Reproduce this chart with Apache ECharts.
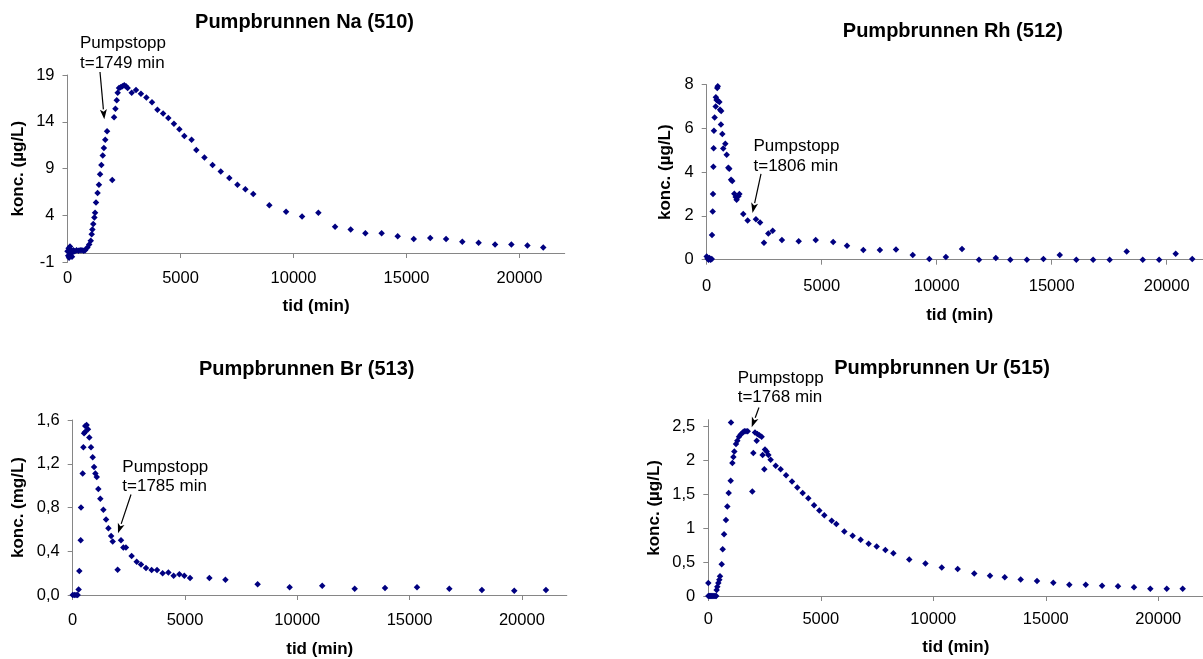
<!DOCTYPE html>
<html><head><meta charset="utf-8">
<script src="https://cdn.jsdelivr.net/npm/echarts@6/dist/echarts.min.js"></script>
<style>html,body{margin:0;padding:0;background:#fff}#c{width:1203px;height:659px}</style>
</head><body><div id="c"></div>
<script>
// ---- Data (time in min, concentration) ----
const naTime = [0,30,50,70,90,110,140,170,200,230,260,320,400,480,560,640,720,780,880,960,1030,1070,1100,1140,1190,1220,1260,1330,1390,1440,1500,1560,1610,1670,1750,1980,2060,2120,2180,2220,2280,2350,2430,2510,2590,2660,2840,3030,3250,3490,3740,3980,4230,4460,4710,4950,5170,5490,5700,6060,6420,6780,7160,7520,7870,8220,8930,9670,10380,11100,11840,12530,13180,13900,14610,15320,16050,16750,17470,18190,18920,19640,20350,21050];
const naConc = [0.2,-0.3,0.5,-0.5,0.1,0.7,-0.2,0.3,-0.4,0.1,0.3,0.2,0.3,0.25,0.3,0.3,0.25,0.3,0.6,0.9,1.3,2.0,2.5,3.1,3.8,4.3,5.4,6.4,7.3,8.4,9.4,10.4,11.2,12.1,13.0,7.8,14.5,15.4,16.3,17.1,17.6,17.7,17.8,17.9,17.8,17.6,17.1,17.4,17.0,16.6,16.1,15.3,14.9,14.4,13.8,13.2,12.5,12.1,11.0,10.2,9.4,8.7,8.0,7.3,6.8,6.3,5.1,4.4,3.9,4.3,2.8,2.5,2.1,2.1,1.8,1.5,1.6,1.5,1.2,1.1,0.9,0.9,0.8,0.6];

const rhTime = [0,40,80,120,170,220,230,260,275,290,300,315,345,390,400,430,460,480,490,550,580,630,620,680,720,810,870,940,980,1060,1110,1200,1260,1300,1380,1420,1590,1780,2140,2320,2490,2680,2870,3270,4000,4740,5500,6100,6810,7530,8230,8960,9680,10400,11100,11840,12570,13200,13920,14640,15350,16070,16800,17520,18260,18960,19670,20390,21110];
const rhConc = [0.15,0.05,0.0,0.08,0.0,0.03,1.13,2.2,3.0,4.25,5.1,5.9,6.5,7.0,7.43,7.3,7.85,7.93,7.27,7.21,6.86,6.8,6.18,5.75,5.08,5.3,4.8,4.2,4.16,3.66,3.6,3.02,2.87,2.74,2.9,3.0,2.09,1.79,1.85,1.7,0.78,1.2,1.32,0.9,0.84,0.9,0.81,0.64,0.44,0.44,0.47,0.21,0.03,0.12,0.49,0.0,0.08,0.0,0.0,0.03,0.21,0.0,0.0,0.0,0.38,0.0,0.0,0.27,0.03];

const brTime = [0,70,150,220,265,295,355,370,445,475,505,550,560,620,680,740,815,890,950,1010,1070,1140,1230,1365,1485,1590,1710,1780,2000,2150,2255,2370,2625,2850,3040,3265,3515,3755,4005,4260,4495,4750,4970,5225,6085,6800,8235,9660,11110,12555,13905,15330,16770,18220,19660,21070];
const brConc = [0,0,0,0,0.05,0.22,0.5,0.8,1.11,1.35,1.48,1.49,1.545,1.555,1.515,1.44,1.35,1.26,1.17,1.11,1.08,0.97,0.88,0.78,0.69,0.61,0.54,0.49,0.23,0.5,0.435,0.435,0.357,0.305,0.28,0.247,0.228,0.228,0.2,0.205,0.176,0.19,0.176,0.155,0.155,0.14,0.098,0.07,0.085,0.058,0.064,0.07,0.058,0.046,0.04,0.046];

const urTime = [0,0,50,100,150,200,250,300,350,370,400,445,490,520,595,640,700,785,845,905,995,1010,1070,1115,1155,1230,1290,1365,1440,1530,1600,1675,1750,1955,2000,2075,2150,2180,2270,2370,2415,2490,2520,2595,2670,2770,2995,3215,3455,3720,3955,4195,4445,4700,4935,5155,5485,5690,6045,6415,6770,7125,7485,7870,8225,8930,9650,10375,11085,11820,12520,13175,13885,14610,15335,16045,16775,17500,18210,18920,19645,20375,21085];
const urConc = [0.19,0,0,0,0,0,0,0,0,0.09,0.135,0.19,0.24,0.29,0.47,0.69,0.91,1.12,1.32,1.52,1.70,2.56,1.96,2.05,2.13,2.24,2.29,2.35,2.38,2.41,2.43,2.43,2.43,1.54,2.11,2.41,2.29,2.39,2.37,2.35,2.08,1.87,2.16,2.13,2.08,2.01,1.92,1.87,1.78,1.69,1.60,1.52,1.44,1.34,1.26,1.19,1.11,1.06,0.95,0.89,0.83,0.77,0.73,0.68,0.63,0.54,0.48,0.42,0.40,0.33,0.30,0.275,0.245,0.22,0.196,0.167,0.167,0.152,0.143,0.128,0.108,0.108,0.108];

const xTicks = [0,5000,10000,15000,20000];
const naYTicks = [-1,4,9,14,19];
const rhYTicks = [0,2,4,6,8];
const brYTicks = [0,0.4,0.8,1.2,1.6];
const urYTicks = [0,0.5,1,1.5,2,2.5];

const titles = ['Pumpbrunnen Na (510)','Pumpbrunnen Rh (512)','Pumpbrunnen Br (513)','Pumpbrunnen Ur (515)'];
const yNames = ['konc. (µg/L)','konc. (µg/L)','konc. (mg/L)','konc. (µg/L)'];
const xName = 'tid (min)';
const stopTexts = ['Pumpstopp\nt=1749 min','Pumpstopp\nt=1806 min','Pumpstopp\nt=1785 min','Pumpstopp\nt=1768 min'];

// ---- Layout ----
const FONT = "'Liberation Sans', Arial, Helvetica, sans-serif";
const AX = '#868686';
const comma = v => String(v).replace('.', ',');
const panels = [
  {time:naTime, conc:naConc, ymin:-1, ymax:19, yt:naYTicks, fmt:v=>String(v),
   grid:{left:67.5, top:75, width:497.2, height:187.4}, tpos:[304.5,22.7], xMargin:8, xGap:35, yGap:41,
   note:{at:[553,23.37], tail:[1438,19.32], tip:[1628,14.27]}},
  {time:rhTime, conc:rhConc, ymin:0, ymax:8, yt:rhYTicks, fmt:v=>String(v),
   grid:{left:706.7, top:84.7, width:506, height:175}, tpos:[952.8,31.7], xMargin:18, xGap:47, yGap:32.5,
   note:{at:[2035,5.62], tail:[2361,3.92], tip:[1991,2.14]}},
  {time:brTime, conc:brConc, ymin:0, ymax:1.6, yt:brYTicks, fmt:v=>v.toFixed(1).replace('.',','),
   grid:{left:72.7, top:420, width:494.1, height:175}, tpos:[306.7,369.3], xMargin:17, xGap:46, yGap:46,
   note:{at:[2208,1.261], tail:[2596,0.919], tip:[2017,0.564]}},
  {time:urTime, conc:urConc, ymin:0, ymax:2.6, yt:urYTicks, fmt:comma,
   grid:{left:708.3, top:419.7, width:495, height:176.3}, tpos:[942,368.3], xMargin:15, xGap:43, yGap:45,
   note:{at:[1307,3.358], tail:[2253,2.78], tip:[1929,2.49]}}
];

const chart = echarts.init(document.getElementById('c'), null, {renderer:'canvas'});
const grids = [], xAxes = [], yAxes = [], series = [];
panels.forEach((p, i) => {
  grids.push(Object.assign({containLabel:false, outerBoundsMode:'none'}, p.grid));
  xAxes.push({
    gridIndex:i, type:'value', min:0, max:22000,
    axisLine:{show:true, onZero:true, lineStyle:{color:AX, width:1}},
    axisTick:{show:true, customValues:xTicks, length:5, lineStyle:{color:AX}},
    axisLabel:{customValues:xTicks, formatter:v=>String(v), margin:p.xMargin, fontSize:16.5, color:'#000', fontFamily:FONT},
    splitLine:{show:false},
    name:xName, nameLocation:'middle', nameGap:p.xGap,
    nameTextStyle:{fontWeight:'bold', fontSize:17, color:'#000', fontFamily:FONT}
  });
  yAxes.push({
    gridIndex:i, type:'value', min:p.ymin, max:p.ymax,
    axisLine:{show:true, onZero:false, lineStyle:{color:AX, width:1}},
    axisTick:{show:true, customValues:p.yt, length:5, lineStyle:{color:AX}},
    axisLabel:{customValues:p.yt, formatter:p.fmt, margin:13, fontSize:16.5, color:'#000', fontFamily:FONT},
    splitLine:{show:false},
    name:yNames[i], nameLocation:'middle', nameGap:p.yGap,
    nameTextStyle:{fontWeight:'bold', fontSize:17, color:'#000', fontFamily:FONT}
  });
  const n = Math.min(p.time.length, p.conc.length);
  const data = [];
  for (let k = 0; k < n; k++) data.push([p.time[k], p.conc[k]]);
  series.push({
    type:'scatter', xAxisIndex:i, yAxisIndex:i, data, symbol:'diamond', symbolSize:6.5,
    itemStyle:{color:'#000080', opacity:1}, clip:false, silent:true
  });
});

chart.setOption({
  animation:false, backgroundColor:'#fff',
  grid:grids, xAxis:xAxes, yAxis:yAxes, series
});

// ---- Titles and Pumpstopp annotations ----
const graphic = [];
panels.forEach((p, i) => {
  graphic.push({type:'text', x:p.tpos[0], y:p.tpos[1], silent:true,
    style:{text:titles[i], fill:'#000', font:'bold 20px ' + FONT, align:'center', verticalAlign:'middle'}});
  const at = chart.convertToPixel({gridIndex:i}, p.note.at);
  const tail = chart.convertToPixel({gridIndex:i}, p.note.tail);
  const tip = chart.convertToPixel({gridIndex:i}, p.note.tip);
  graphic.push({type:'text', x:at[0], y:at[1], silent:true,
    style:{text:stopTexts[i], fill:'#000', font:'17px ' + FONT, align:'left', verticalAlign:'top', lineHeight:19.5}});
  const dx = tip[0]-tail[0], dy = tip[1]-tail[1];
  const L = Math.sqrt(dx*dx+dy*dy), ux = dx/L, uy = dy/L;
  const hl = 10, hw = 3.5;
  const bx = tip[0]-ux*hl, by = tip[1]-uy*hl;
  graphic.push({type:'line', silent:true, shape:{x1:tail[0], y1:tail[1], x2:bx, y2:by},
    style:{stroke:'#000', lineWidth:1.2}});
  graphic.push({type:'polygon', silent:true,
    shape:{points:[[tip[0],tip[1]],[bx-uy*hw, by+ux*hw],[bx+ux*2.5, by+uy*2.5],[bx+uy*hw, by-ux*hw]]},
    style:{fill:'#000'}});
});
chart.setOption({graphic});
</script>
</body></html>
